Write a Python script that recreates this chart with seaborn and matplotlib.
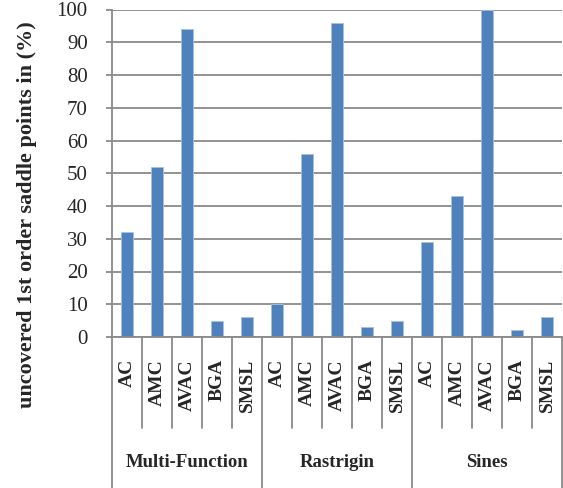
import matplotlib
matplotlib.use("Agg")
import matplotlib.pyplot as plt
import seaborn as sns
import pandas as pd

# Benchmark functions and methods compared
groups = ["Multi-Function", "Rastrigin", "Sines"]
methods = ["AC", "AMC", "AVAC", "BGA", "SMSL"]

# Uncovered 1st order saddle points (%) per method
multi_function_values = [32, 52, 94, 5, 6]
rastrigin_values = [10, 56, 96, 3, 5]
sines_values = [29, 43, 100, 2, 6]

y_ticks = list(range(0, 101, 10))
y_label = "uncovered 1st order saddle points in (%)"

rows = []
for g, vals in zip(groups, [multi_function_values, rastrigin_values, sines_values]):
    for m, v in zip(methods, vals):
        rows.append({"group": g, "method": m, "key": f"{g}|{m}", "value": v})
df = pd.DataFrame(rows)

sns.set_style("white")
plt.rcParams["font.family"] = ["Liberation Serif", "DejaVu Serif"]

GRID = "#8a8a8a"
BAR = "#4F81BD"

W, H = 563, 488
fig = plt.figure(figsize=(W / 100, H / 100), dpi=100)
ax = fig.add_axes([112 / W, 1 - 337 / H, 450 / W, 327.5 / H])

sns.barplot(data=df, x="key", y="value", color=BAR, saturation=1,
            width=0.43, edgecolor="#a9c1e0", linewidth=0.6, ax=ax)

ax.set_xlim(-0.5, len(df) - 0.5)
ax.set_ylim(0, 100)
ax.set_yticks(y_ticks)
ax.yaxis.grid(True, color=GRID, linewidth=1.3)
ax.set_axisbelow(True)

for side in ["top", "right"]:
    ax.spines[side].set_visible(False)
for side in ["left", "bottom"]:
    ax.spines[side].set_color(GRID)
    ax.spines[side].set_linewidth(1.3)

ax.tick_params(axis="y", length=4.5, width=1.3, color=GRID, pad=13,
               labelsize=15, left=True)
ax.set_xticks(range(len(df)))
ax.set_xticklabels(df["method"], rotation=90, fontweight="bold", fontsize=14)
ax.tick_params(axis="x", length=0, pad=16)
ax.set_xlabel("")

ax.set_ylabel(y_label, fontweight="bold", fontsize=16)
ax.yaxis.set_label_coords(-0.167, 0.373)

# Category and group dividers below the axis
trans = ax.get_xaxis_transform()
n = len(df)
for i in range(n + 1):
    x = i - 0.5
    bottom = -1.04 if i % len(methods) == 0 else -0.278
    ax.plot([x, x], [0, bottom], transform=trans, clip_on=False,
            color=GRID, linewidth=1.3)

for k, g in enumerate(groups):
    ax.text(k * len(methods) + (len(methods) - 1) / 2, -0.382, g,
            transform=trans, ha="center", va="center",
            fontweight="bold", fontsize=13.5)

fig.savefig("out.png", dpi=100)
